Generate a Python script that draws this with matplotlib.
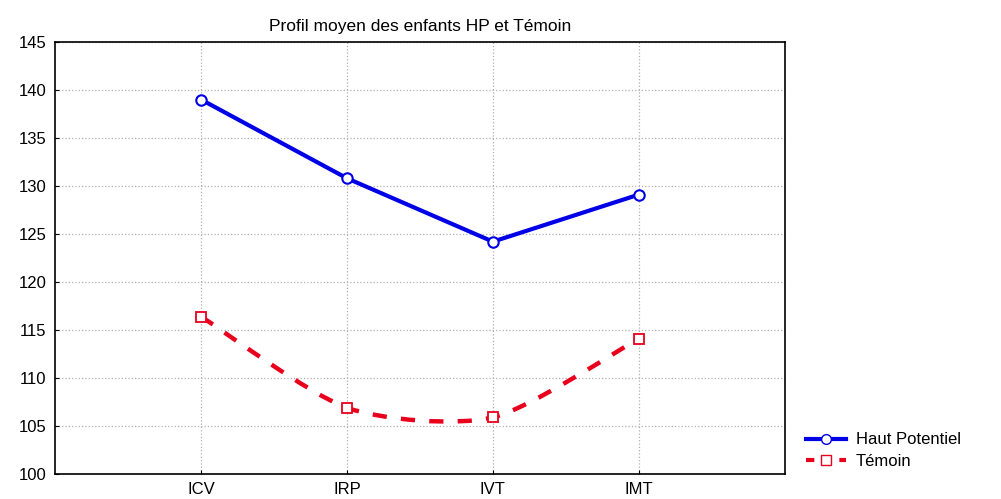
import numpy as np
import matplotlib
matplotlib.use("Agg")
import matplotlib.pyplot as plt
from matplotlib.path import Path
from matplotlib.patches import PathPatch
from matplotlib.lines import Line2D

plt.rcParams['font.family'] = ['Liberation Sans', 'DejaVu Sans']

# données
categories = ['ICV', 'IRP', 'IVT', 'IMT']
haut_potentiel = [139.0, 130.8, 124.2, 129.1]
temoin = [116.4, 106.9, 105.9, 114.1]
y_ticks = [100, 105, 110, 115, 120, 125, 130, 135, 140, 145]

blue = '#0000e6'
red = '#e8001c'

fig = plt.figure(figsize=(10.01, 4.99), dpi=100)
ax = fig.add_axes([0.055, 0.05, 0.729, 0.866])

x = np.arange(len(categories))

# courbe Haut Potentiel (segments droits)
ax.plot(x, haut_potentiel, color=blue, lw=3, zorder=3)
ax.plot(x, haut_potentiel, ls='none', marker='o', ms=7.5, mfc='white',
        mec=blue, mew=1.5, zorder=4)

# courbe Témoin lissée (bezier entre les points, tension réduite)
pts = np.column_stack([x, temoin]).astype(float)
verts = [tuple(pts[0])]
codes = [Path.MOVETO]
for i in range(len(pts) - 1):
    p0 = pts[i - 1] if i > 0 else pts[i]
    p1 = pts[i]
    p2 = pts[i + 1]
    p3 = pts[i + 2] if i + 2 < len(pts) else pts[i + 1]
    c1 = p1 + (p2 - p0) / 8.0
    c2 = p2 - (p3 - p1) / 8.0
    verts += [tuple(c1), tuple(c2), tuple(p2)]
    codes += [Path.CURVE4] * 3
patch = PathPatch(Path(verts, codes), fill=False, edgecolor=red, lw=3.2,
                  ls=(0, (3.2, 3.2)), zorder=3)
ax.add_patch(patch)
ax.plot(x, temoin, ls='none', marker='s', ms=7.5, mfc='white',
        mec=red, mew=1.3, zorder=4)

ax.set_xlim(-1, 4)
ax.set_ylim(100, 145)
ax.set_xticks(x)
ax.set_xticklabels(categories)
ax.set_yticks(y_ticks)
ax.tick_params(axis='both', direction='in', length=3, labelsize=12, pad=6)
ax.grid(True, color='#b0b0b0', ls=':', lw=0.9)
for s in ax.spines.values():
    s.set_linewidth(1.2)

ax.set_title('Profil moyen des enfants HP et Témoin', fontsize=12.5, pad=8)

handles = [
    Line2D([], [], color=blue, lw=3, marker='o', ms=7, mfc='white', mec=blue),
    Line2D([], [], color=red, lw=3, ls=(0, (2, 2)), marker='s', ms=7,
           mfc='white', mec=red),
]
fig.legend(handles, ['Haut Potentiel', 'Témoin'], loc='lower left',
           bbox_to_anchor=(0.79, 0.03), frameon=False, fontsize=12,
           handlelength=2.4, handletextpad=0.6, labelspacing=0.4)

plt.savefig('out.png', dpi=100)
